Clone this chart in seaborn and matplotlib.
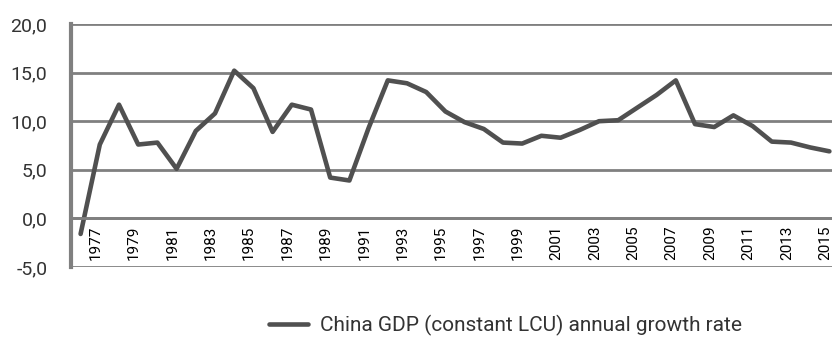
import matplotlib
matplotlib.use("Agg")
import matplotlib.pyplot as plt
import seaborn as sns
import pandas as pd
import numpy as np
from matplotlib.ticker import FixedLocator, FuncFormatter

years = list(range(1976, 2016))
growth = [-1.6, 7.6, 11.7, 7.6, 7.8, 5.1, 9.0, 10.8, 15.2, 13.4,
          8.9, 11.7, 11.2, 4.2, 3.9, 9.3, 14.2, 13.9, 13.0, 11.0,
          9.9, 9.2, 7.8, 7.7, 8.5, 8.3, 9.1, 10.0, 10.1, 11.4,
          12.7, 14.2, 9.7, 9.4, 10.6, 9.5, 7.9, 7.8, 7.3, 6.9]
series_name = "China GDP (constant LCU) annual growth rate"
y_ticks = [-5, 0, 5, 10, 15, 20]

df = pd.DataFrame({"pos": np.arange(len(years)), "growth": growth})

sns.set_style("white")
plt.rcParams["font.family"] = ["Roboto", "DejaVu Sans"]

W, H = 832, 337
fig = plt.figure(figsize=(W / 100, H / 100), dpi=100)
left, right, top, bottom = 71, 839, 24, 267
ax = fig.add_axes([left / W, 1 - bottom / H, (right - left) / W, (bottom - top) / H])

grid_c = "#808080"
sns.lineplot(data=df, x="pos", y="growth", ax=ax, color="#505050",
             linewidth=3.3, label=series_name, legend=False)

ax.set_xlim(-0.5, len(years) - 0.5)
ax.set_ylim(-5, 20)
ax.set_xlabel("")
ax.set_ylabel("")

# value axis
ax.set_yticks(y_ticks)
ax.yaxis.set_major_formatter(FuncFormatter(lambda v, p: f"{v:.1f}".replace(".", ",")))
ax.tick_params(axis="y", length=9, width=2, color=grid_c, pad=8,
               labelsize=14, labelcolor="#333333")
ax.yaxis.grid(True, color=grid_c, linewidth=2)
ax.xaxis.grid(False)

# category axis crossing at zero
for s in ("top", "right"):
    ax.spines[s].set_visible(False)
ax.spines["left"].set_color(grid_c)
ax.spines["left"].set_linewidth(3)
ax.spines["bottom"].set_position(("data", 0))
ax.spines["bottom"].set_color(grid_c)
ax.spines["bottom"].set_linewidth(2)

# every second year is labelled; labels sit just left of their category
label_idx = list(range(1, len(years), 2))
ax.xaxis.set_major_locator(FixedLocator([i - 0.22 for i in label_idx]))
ax.set_xticklabels([str(years[i]) for i in label_idx], rotation=90,
                   fontsize=11, color="#000000")
ax.xaxis.set_minor_locator(FixedLocator(np.arange(0.5, len(years) - 0.5, 1.0)))
ax.tick_params(axis="x", which="major", length=0, pad=5)
ax.tick_params(axis="x", which="minor", length=4, width=2, color=grid_c,
               direction="out")

handles, labels = ax.get_legend_handles_labels()
fig.legend(handles, labels, loc="center left",
           bbox_to_anchor=(250 / W, 1 - 325 / H), frameon=False,
           fontsize=15, handlelength=1.9, handletextpad=0.55,
           labelcolor="#333333")

fig.savefig("out.png", dpi=100)
